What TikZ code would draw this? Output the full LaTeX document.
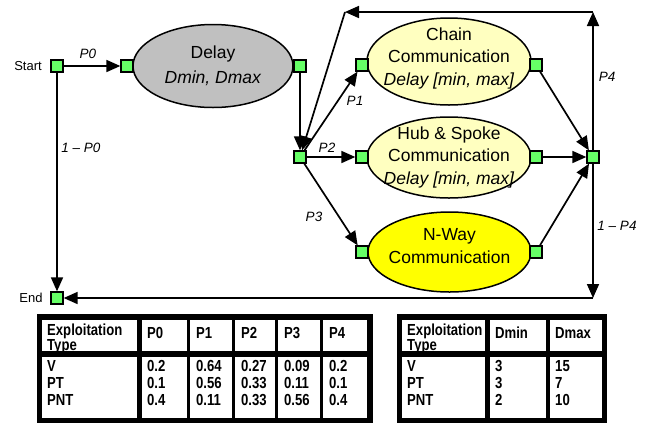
\documentclass[tikz,border=0pt]{standalone}
\usepackage{fontspec}
\setmainfont{Liberation Sans}
\newfontfamily\tabfont[FakeStretch=0.82]{Liberation Sans}
\usetikzlibrary{arrows.meta,shapes.geometric}
\definecolor{sqgreen}{RGB}{102,255,102}
\definecolor{dgray}{RGB}{192,192,192}
\definecolor{lyellow}{RGB}{255,255,192}
\definecolor{yel}{RGB}{255,255,0}
\begin{document}
\begin{tikzpicture}[x=1pt,y=-1pt,
  port/.style={draw,line width=1.3pt,fill=sqgreen,minimum size=12pt,inner sep=0pt},
  blob/.style={ellipse,draw,line width=1.5pt,inner sep=0pt},
  big/.style={font=\fontsize{17.5}{22.5}\selectfont,align=center,inner sep=0pt},
  arr/.style={line width=1.7pt,-{Triangle[length=14pt,width=12pt]}},
  lab/.style={font=\fontsize{13.5}{15}\selectfont\itshape,inner sep=0pt},
  plain/.style={font=\fontsize{13}{15}\selectfont,inner sep=0pt},
  tab/.style={font=\tabfont\bfseries\fontsize{16}{16}\selectfont,anchor=base west,inner sep=0pt},
  tabhead/.style={font=\tabfont\bfseries\fontsize{16}{13}\selectfont,anchor=north west,align=left,inner sep=0pt}]
\useasboundingbox (0,0) rectangle (645,424);

% ellipses
\node[blob,fill=dgray,minimum width=160pt,minimum height=83pt] (delay) at (213,66) {};
\node[big,font=\fontsize{17.5}{25}\selectfont] (delaytxt) at (213,66) {Delay\\\textit{Dmin, Dmax}};
\node[blob,fill=lyellow,minimum width=164pt,minimum height=87pt] (chain) at (449,61.5) {};
\node[big] (chaintxt) at (449,58) {Chain\\Communication\\\textit{Delay [min, max]}};
\node[blob,fill=lyellow,minimum width=164pt,minimum height=81pt] (hubsp) at (449,157.5) {};
\node[big] (hubtxt) at (449,157) {Hub \& Spoke\\Communication\\\textit{Delay [min, max]}};
\node[blob,fill=yel,minimum width=163pt,minimum height=80pt] (nway) at (449.5,252) {};
\node[big] (nwaytxt) at (449.5,246) {N-Way\\Communication};

% ports
\node[port] (start) at (57,66) {};
\node[port] (end) at (57,298) {};
\node[port] (delayL) at (127,66) {};
\node[port] (delayR) at (300,66) {};
\node[port] (hub) at (300,157) {};
\node[port] (chainL) at (362,65) {};
\node[port] (chainR) at (536,65) {};
\node[port] (hubL) at (362,157) {};
\node[port] (hubR) at (536,157) {};
\node[port] (nwayL) at (362,252) {};
\node[port] (nwayR) at (536,252) {};
\node[port] (merge) at (593,157) {};
\coordinate (tr) at (593,12);
\coordinate (tl) at (345,12);
\coordinate (br) at (593,298);

% texts
\node[plain] (starttxt) at (28,66) {Start};
\node[plain] (endtxt) at (31,298) {End};
\node[lab] (lp0) at (88,54) {P0};
\node[lab] (l1p0) at (81,148) {1 – P0};
\node[lab] (lp1) at (355,101) {P1};
\node[lab] (lp2) at (327,148) {P2};
\node[lab] (lp3) at (314,217) {P3};
\node[lab] (lp4) at (607,77) {P4};
\node[lab] (l1p4) at (617,226) {1 – P4};

% connectors
\draw[arr] (start) -- (delayL);
\draw[arr] (start) -- (end);
\draw[arr] (delayR) -- (hub);
\draw[arr] (hub) -- (chainL);
\draw[arr] (hub) -- (hubL);
\draw[arr] (hub) -- (nwayL);
\draw[arr] (chainR) -- (merge);
\draw[arr] (hubR) -- (merge);
\draw[arr] (nwayR) -- (merge);
\draw[arr] (merge) -- (tr);
\draw[arr] (tr) -- (tl);
\draw[arr] (tl) -- (hub);
\draw[arr] (merge) -- (br);
\draw[arr] (br) -- (end);

% left table
\fill (37,314) rectangle (373,423);
\foreach \a/\b in {42/137,142/187,190/232,235/275,278/320,323/367}{
  \fill[white] (\a,320) rectangle (\b,351);
  \fill[white] (\a,356.5) rectangle (\b,418);
}
\node[tabhead] (lhA) at (47,323.5) {Exploitation\\Type};
\foreach \x/\t [count=\i] in {147/P0,196/P1,241/P2,284/P3,329/P4}
  \node[tab] (lh\i) at (\x,338) {\t};
\foreach \y/\r/\a/\b/\c/\d/\e [count=\j] in
  {371.5/V/0.2/0.64/0.27/0.09/0.2, 388.5/PT/0.1/0.56/0.33/0.11/0.1, 405.5/PNT/0.4/0.11/0.33/0.56/0.4}{
  \node[tab] (lr\j) at (47,\y) {\r};
  \node[tab] (lv\j a) at (147,\y) {\a};
  \node[tab] (lv\j b) at (196,\y) {\b};
  \node[tab] (lv\j c) at (241,\y) {\c};
  \node[tab] (lv\j d) at (284,\y) {\d};
  \node[tab] (lv\j e) at (329,\y) {\e};
}

% right table
\fill (397,314) rectangle (607,423);
\foreach \a/\b in {402/485,490/546,550/602}{
  \fill[white] (\a,320) rectangle (\b,351);
  \fill[white] (\a,356.5) rectangle (\b,418);
}
\node[tabhead] (rhA) at (407,323.5) {Exploitation\\Type};
\node[tab] (rh1) at (495,338) {Dmin};
\node[tab] (rh2) at (555,338) {Dmax};
\foreach \y/\r/\a/\b [count=\j] in {371.5/V/3/15, 388.5/PT/3/7, 405.5/PNT/2/10}{
  \node[tab] (rr\j) at (407,\y) {\r};
  \node[tab] (rv\j a) at (495,\y) {\a};
  \node[tab] (rv\j b) at (555,\y) {\b};
}
\end{tikzpicture}
\end{document}
